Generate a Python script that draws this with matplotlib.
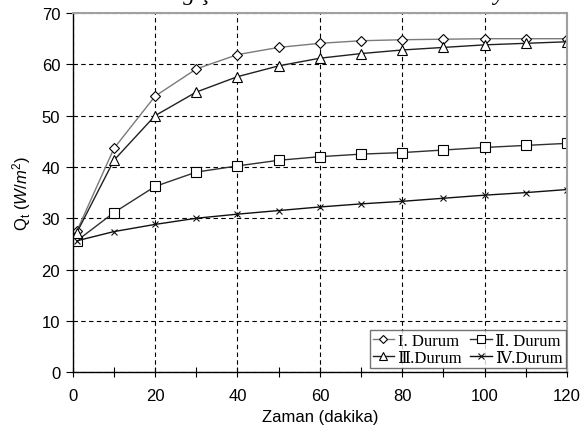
import numpy as np
import matplotlib.pyplot as plt
from matplotlib.ticker import MultipleLocator

t = [1, 10, 20, 30, 40, 50, 60, 70, 80, 90, 100, 110, 120]
durum1 = [27.5, 43.6, 53.8, 59.1, 61.9, 63.3, 64.1, 64.6, 64.8, 64.9, 65.0, 65.0, 65.0]
durum2 = [25.6, 31.1, 36.2, 39.0, 40.2, 41.3, 42.0, 42.5, 42.8, 43.3, 43.8, 44.2, 44.6]
durum3 = [27.2, 41.3, 50.0, 54.6, 57.6, 59.7, 61.2, 62.1, 62.8, 63.3, 63.8, 64.1, 64.4]
durum4 = [25.6, 27.4, 28.8, 30.0, 30.8, 31.5, 32.2, 32.8, 33.3, 33.9, 34.5, 35.0, 35.6]

labels = ['I. Durum', 'Ⅱ. Durum', 'Ⅲ.Durum', 'Ⅳ.Durum']

plt.rcParams['font.family'] = ['Liberation Sans', 'DejaVu Sans']
plt.rcParams['mathtext.fontset'] = 'custom'
plt.rcParams['mathtext.rm'] = 'Liberation Sans'
plt.rcParams['mathtext.it'] = 'Liberation Sans:italic'

fig = plt.figure(figsize=(5.83, 4.39), dpi=100)
ax = fig.add_axes([0.1247, 0.150, 0.848, 0.818])

mk = dict(markerfacecolor='white', markeredgecolor='black', markeredgewidth=0.8, lw=1.0)
l1, = ax.plot(t, durum1, marker='D', markersize=5.5, color='#7a7a7a', **mk)
l2, = ax.plot(t, durum2, marker='s', markersize=7, color='#303030', **mk)
l3, = ax.plot(t, durum3, marker='^', markersize=7, color='#202020', **mk)
l4, = ax.plot(t, durum4, marker='x', markersize=5, color='#101010', lw=1.0, markeredgewidth=0.8)

ax.set_xlim(0, 120)
ax.set_ylim(0, 70)
ax.xaxis.set_major_locator(MultipleLocator(20))
ax.xaxis.set_minor_locator(MultipleLocator(10))
ax.yaxis.set_major_locator(MultipleLocator(10))
ax.grid(True, which='major', ls=(0, (4, 3)), color='black', lw=0.8)
ax.tick_params(axis='x', which='both', direction='inout', length=7, width=0.8, labelsize=12, pad=8)
ax.tick_params(axis='y', which='major', direction='out', length=5, width=0.8, labelsize=12, pad=4)
for s in ['top', 'right']:
    ax.spines[s].set_color('#a0a0a0')
    ax.spines[s].set_linewidth(1.5)
for s in ['left', 'bottom']:
    ax.spines[s].set_color('black')
    ax.spines[s].set_linewidth(1.0)

ax.set_xlabel('Zaman (dakika)', fontsize=12, labelpad=4)
ax.set_ylabel(r'Q$_\mathrm{t}$ ($\it{W/m^2}$)', fontsize=12, labelpad=6)

leg = ax.legend([l1, l3, l2, l4], [labels[0], labels[2], labels[1], labels[3]], ncol=2,
                loc='lower right', bbox_to_anchor=(0.997, 0.011), frameon=True, fancybox=False,
                prop={'family': ['Liberation Serif', 'DejaVu Serif'], 'size': 12},
                handlelength=1.3, handletextpad=0.2, columnspacing=0.5, labelspacing=0.05,
                borderpad=0.15, borderaxespad=0, markerscale=0.75)
leg.get_frame().set_edgecolor('#505050')
leg.get_frame().set_linewidth(1.0)

fig.text(0.0, 1.012, 'ısısının zamanla değişimi', fontsize=17, style='italic',
         family='Liberation Serif', ha='left', va='center')
fig.text(0.58, 1.012, 'Ortalama ist. hayat ört', fontsize=17, style='italic',
         family='Liberation Serif', ha='left', va='center')

fig.savefig('out.png', dpi=100)
